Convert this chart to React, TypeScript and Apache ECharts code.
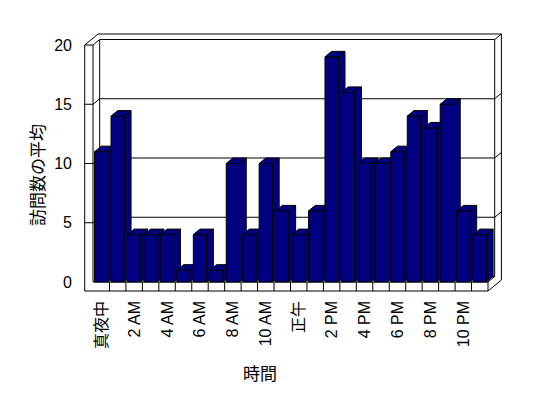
import React, { useEffect, useRef } from "react";
import * as echarts from "echarts";

const hours = [
  "真夜中", "1 AM", "2 AM", "3 AM", "4 AM", "5 AM", "6 AM", "7 AM", "8 AM", "9 AM", "10 AM", "11 AM",
  "正午", "1 PM", "2 PM", "3 PM", "4 PM", "5 PM", "6 PM", "7 PM", "8 PM", "9 PM", "10 PM", "11 PM",
];
const visits = [11, 14, 4, 4, 4, 1, 4, 1, 10, 4, 10, 6, 4, 6, 19, 16, 10, 10, 11, 14, 13, 15, 6, 4];
const yTicks = [0, 5, 10, 15, 20];
const yTitle = "訪問数の平均";
const xTitle = "時間";

// drawing style constants (oblique 3D look)
const DX = 6.7;
const DY = -5.5;
const WALL = 8.3;
const FLOOR = 9;
const BAR_COLOR = "#000080";
const FONT = "'Liberation Sans', Arial, 'Noto Sans CJK JP', sans-serif";

const ln = (x1: number, y1: number, x2: number, y2: number) => ({
  type: "line",
  shape: { x1, y1, x2, y2 },
  style: { stroke: "#000", lineWidth: 1 },
});

export default function App() {
  const ref = useRef<HTMLDivElement>(null);
  useEffect(() => {
    if (!ref.current) return;
    const chart = echarts.init(ref.current, null, { renderer: "svg" });
    const n = hours.length;
    const yMax = yTicks[yTicks.length - 1];

    const wallsItem = (params: any, api: any) => {
      const band = api.size([1, 0])[0];
      const c0 = api.coord([0, 0]);
      const x0 = c0[0] - band / 2;
      const y0 = c0[1];
      const x1 = api.coord([n - 1, 0])[0] + band / 2;
      const yT = api.coord([0, yMax])[1];
      const L = x0 - WALL;
      const yB = y0 + FLOOR;
      const children: any[] = [];
      children.push({
        type: "polygon",
        shape: {
          points: [
            [L, yT],
            [L + 2 * DX, yT + 2 * DY],
            [x1 + 2 * DX, yT + 2 * DY],
            [x1 + 2 * DX, yB + 2 * DY],
            [x1, yB],
            [L, yB],
          ],
        },
        style: { fill: "#fff", stroke: "#000", lineWidth: 1 },
      });
      // left wall front face
      children.push(ln(L, yT, x0, yT));
      children.push(ln(x0, yT, x0, y0));
      children.push(ln(x0, yT, x0 + DX, yT + DY));
      // back wall inner face
      children.push(ln(x0 + DX, yT + DY, x1 + DX, yT + DY));
      children.push(ln(x0 + DX, yT + DY, x0 + DX, y0 + DY));
      children.push(ln(x1 + DX, yT + DY, x1 + DX, y0 + DY));
      children.push(ln(x1 + DX, yT + DY, x1 + 2 * DX, yT + 2 * DY));
      // floor
      children.push(ln(x0, y0, x1, y0));
      children.push(ln(x1, y0, x1, yB));
      children.push(ln(x1, y0, x1 + DX, y0 + DY));
      children.push(ln(x0 + DX, y0 + DY, x1 + DX, y0 + DY));
      for (let k = 1; k < n; k++) {
        const x = x0 + k * band;
        children.push(ln(x, y0, x, yB));
      }
      // ticks and gridlines
      yTicks.forEach((v) => {
        if (v === 0 || v === yMax) return;
        const y = api.coord([0, v])[1];
        children.push(ln(L, y, x0, y));
        children.push(ln(x0, y, x0 + DX, y + DY));
        children.push(ln(x0 + DX, y + DY, x1 + DX, y + DY));
        children.push(ln(x1 + DX, y + DY, x1 + 2 * DX, y + 2 * DY));
      });
      return { type: "group", children };
    };

    const barItem = (params: any, api: any) => {
      const i = api.value(0);
      const v = api.value(1);
      const band = api.size([1, 0])[0];
      const bw = band * 0.81;
      const base = api.coord([i, 0]);
      const top = api.coord([i, v]);
      const xl = base[0] - bw / 2;
      const xr = base[0] + bw / 2;
      const yb = base[1];
      const yt = top[1];
      const style = { fill: BAR_COLOR, stroke: "#000", lineWidth: 1 };
      return {
        type: "group",
        children: [
          { type: "polygon", shape: { points: [[xl, yb], [xr, yb], [xr, yt], [xl, yt]] }, style },
          { type: "polygon", shape: { points: [[xl, yt], [xr, yt], [xr + DX, yt + DY], [xl + DX, yt + DY]] }, style },
          { type: "polygon", shape: { points: [[xr, yb], [xr + DX, yb + DY], [xr + DX, yt + DY], [xr, yt]] }, style },
        ],
      };
    };

    chart.setOption({
      animation: false,
      backgroundColor: "#fff",
      grid: { left: 93, right: 60, top: 45, bottom: 116 },
      xAxis: {
        type: "category",
        data: hours,
        axisLine: { show: false },
        axisTick: { show: false },
        splitLine: { show: false },
        axisLabel: { rotate: 90, interval: 1, margin: 19, fontSize: 16, color: "#000", fontFamily: FONT },
      },
      yAxis: {
        type: "value",
        min: 0,
        max: yMax,
        interval: 5,
        axisLine: { show: false },
        axisTick: { show: false },
        splitLine: { show: false },
        axisLabel: { margin: 21, fontSize: 16, color: "#000", fontFamily: FONT },
      },
      graphic: [
        {
          type: "text",
          x: 38,
          y: 175,
          rotation: Math.PI / 2,
          style: { text: yTitle, textAlign: "center", textVerticalAlign: "middle", fill: "#000", font: `17px ${FONT}` },
        },
        {
          type: "text",
          x: 260,
          y: 374,
          style: { text: xTitle, textAlign: "center", textVerticalAlign: "middle", fill: "#000", font: `17px ${FONT}` },
        },
      ],
      series: [
        { type: "custom", z: 1, silent: true, renderItem: wallsItem, data: [[0, 0]], encode: { x: 0, y: 1 } },
        {
          type: "custom",
          z: 2,
          silent: true,
          renderItem: barItem,
          data: visits.map((v, i) => [i, v]),
          encode: { x: 0, y: 1 },
        },
      ],
    });
    return () => chart.dispose();
  }, []);
  return <div ref={ref} style={{ position: "absolute", left: 0, top: 0, width: 548, height: 398 }} />;
}
